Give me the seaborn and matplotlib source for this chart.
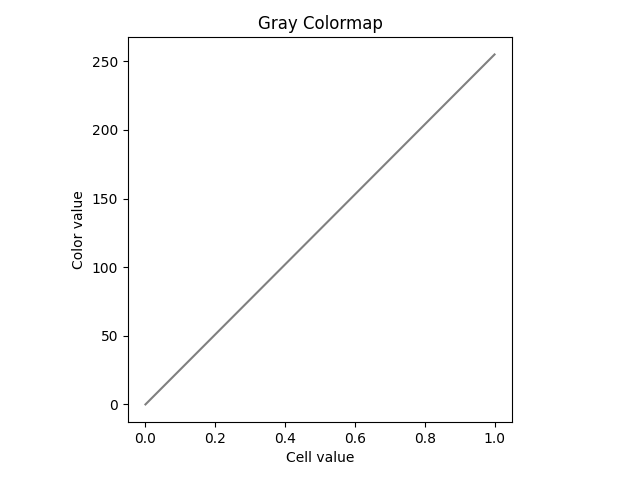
import matplotlib
matplotlib.use('Agg')
import matplotlib.pyplot as plt
import seaborn as sns

# Gray colormap: cell value -> color value
cell_value = [0.0, 1.0]
color_value = [0, 255]

fig = plt.figure(figsize=(6.4, 4.8), dpi=100)
ax = fig.add_axes([0.2, 0.121, 0.6, 0.802])

sns.lineplot(x=cell_value, y=color_value, color='gray', ax=ax)

ax.set_title('Gray Colormap')
ax.set_xlabel('Cell value')
ax.set_ylabel('Color value')

fig.savefig('out.png')
